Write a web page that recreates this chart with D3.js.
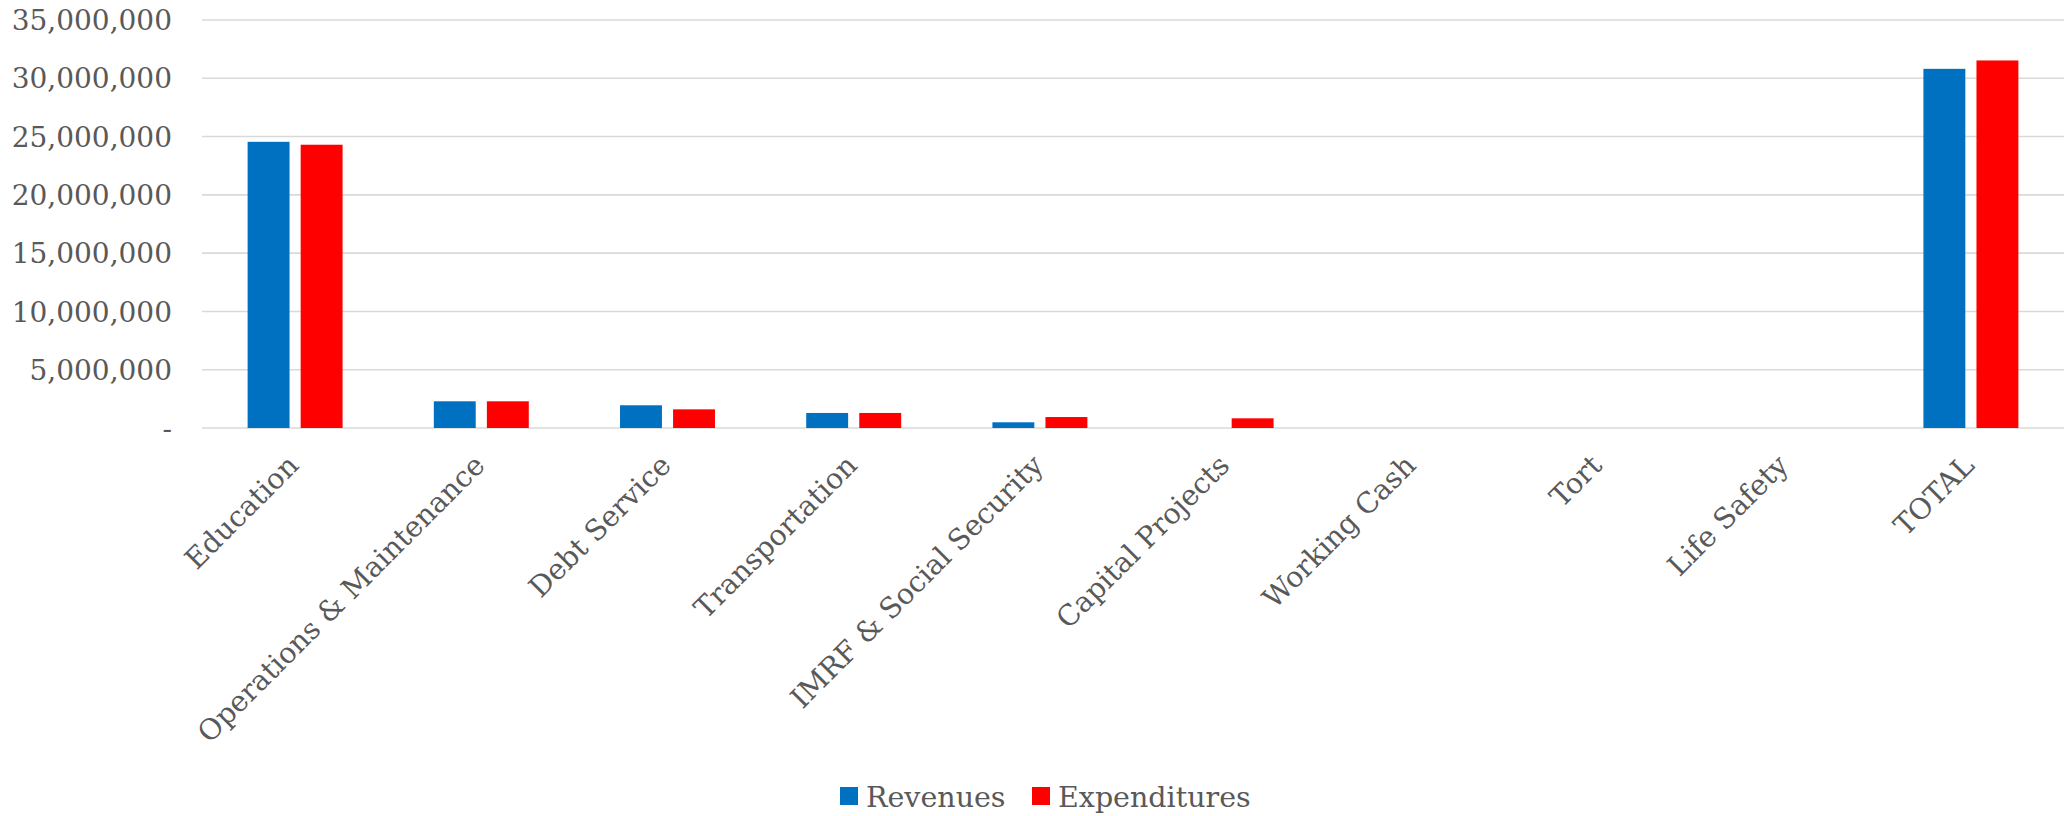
<!DOCTYPE html>
<html>
<head>
<meta charset="utf-8">
<script src="https://cdn.jsdelivr.net/npm/d3@7"></script>
<style>
	body { margin: 0; background: #fff; }
	text { font-family: "DejaVu Serif", serif; fill: #595959; }
</style>
</head>
<body>
<div id="chart"></div>
<script>
/* DATA */

const categories = [
	"Education",
	"Operations & Maintenance",
	"Debt Service",
	"Transportation",
	"IMRF & Social Security",
	"Capital Projects",
	"Working Cash",
	"Tort",
	"Life Safety",
	"TOTAL",
];
const seriesNames = ["Revenues", "Expenditures"];
const revenues = [24550000, 2290000, 1950000, 1290000, 490000, 0, 0, 0, 0, 30810000];
const expenditures = [24300000, 2290000, 1600000, 1290000, 940000, 830000, 0, 0, 0, 31530000];
const yTicks = [0, 5000000, 10000000, 15000000, 20000000, 25000000, 30000000, 35000000];
const colors = ["#0070C0", "#FF0000"];

/* SET UP */

const w = 2072;
const h = 816;
const plot = { left: 202, right: 2064, top: 20, bottom: 428 };

const svg = d3
	.select("#chart")
	.append("svg")
	.attr("width", w)
	.attr("height", h);

const x0 = d3
	.scaleBand()
	.domain(categories)
	.range([plot.left, plot.right])
	.paddingInner(0.49)
	.paddingOuter(0.245);

const x1 = d3
	.scaleBand()
	.domain(seriesNames)
	.range([0, x0.bandwidth()])
	.paddingInner(0.21);

const y = d3.scaleLinear().domain([0, 35000000]).range([plot.bottom, plot.top]);

const fmt = d3.format(",");

// gridlines + y labels
svg
	.append("g")
	.selectAll("line")
	.data(yTicks)
	.join("line")
	.attr("x1", plot.left)
	.attr("x2", plot.right)
	.attr("y1", (d) => y(d))
	.attr("y2", (d) => y(d))
	.attr("stroke", "#d9d9d9")
	.attr("stroke-width", 1.6);

svg
	.append("g")
	.selectAll("text")
	.data(yTicks)
	.join("text")
	.attr("x", 172)
	.attr("y", (d) => y(d))
	.attr("dy", "0.36em")
	.attr("text-anchor", "end")
	.style("font-size", "28px")
	.text((d) => (d === 0 ? "-" : fmt(d)));

// bars
const rows = categories.map((c, i) => ({ cat: c, vals: [revenues[i], expenditures[i]] }));

const groups = svg
	.append("g")
	.selectAll("g")
	.data(rows)
	.join("g")
	.attr("transform", (d) => `translate(${x0(d.cat)},0)`);

groups
	.selectAll("rect")
	.data((d) => d.vals.map((v, j) => ({ key: seriesNames[j], v: v, c: colors[j] })))
	.join("rect")
	.attr("x", (d) => x1(d.key))
	.attr("width", x1.bandwidth())
	.attr("y", (d) => y(d.v))
	.attr("height", (d) => y(0) - y(d.v))
	.attr("fill", (d) => d.c);

// x labels, rotated
svg
	.append("g")
	.selectAll("text")
	.data(categories)
	.join("text")
	.attr("transform", (d) => `translate(${x0(d) + x0.bandwidth() / 2 - 10},452) rotate(-45)`)
	.attr("dy", "0.75em")
	.attr("text-anchor", "end")
	.style("font-size", "28.5px")
	.text((d) => d);

// legend
const legend = svg.append("g").attr("transform", "translate(840,787)");
const legendX = [0, 192];
seriesNames.forEach((s, i) => {
	legend
		.append("rect")
		.attr("x", legendX[i])
		.attr("y", 0)
		.attr("width", 18)
		.attr("height", 18)
		.attr("fill", colors[i]);
	legend
		.append("text")
		.attr("x", legendX[i] + 26)
		.attr("y", 20)
		.style("font-size", "28.5px")
		.text(s);
});
</script>
</body>
</html>
